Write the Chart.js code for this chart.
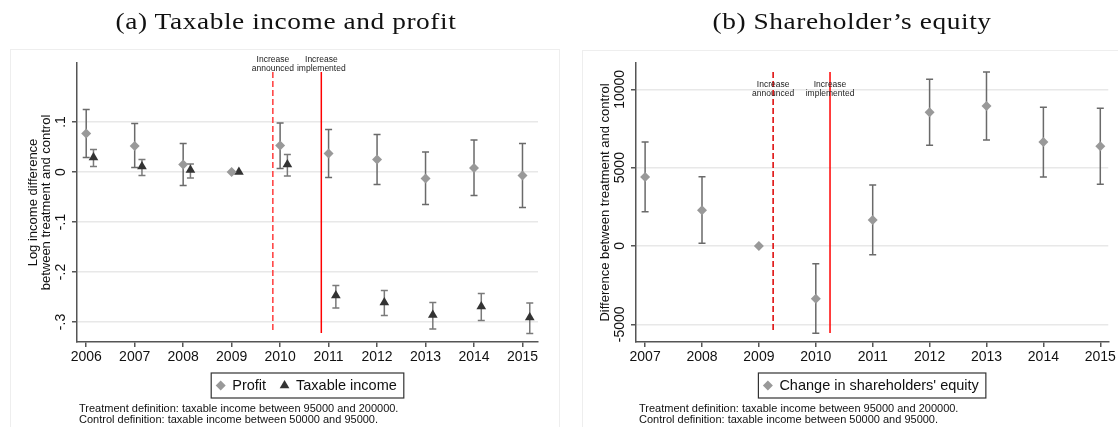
<!DOCTYPE html>
<html>
<head>
<meta charset="utf-8">
<script src="https://cdn.jsdelivr.net/npm/chart.js@4.4.1/dist/chart.umd.min.js"></script>
<style>
  body { margin: 0; background: #fff; width: 1118px; height: 427px; overflow: hidden; position: relative;
         font-family: "Liberation Sans", Arial, sans-serif; }
  canvas { position: absolute; top: 0; }
  .frame { position: absolute; border: 1px solid #eeeeee; }
  .title { position: absolute; top: 8px; font-family: "Liberation Serif", serif; font-size: 24px; color: #111;
           white-space: nowrap; transform: translateX(-50%) scaleX(1.14); letter-spacing: 0.5px; }
  .note { position: absolute; top: 403px; font-size: 11px; line-height: 11px; color: #111; white-space: nowrap; }
</style>
</head>
<body>
<div class="frame" style="left:10px; top:49px; width:548px; height:400px;"></div>
<div class="frame" style="left:582px; top:50px; width:560px; height:400px;"></div>

<canvas id="incomeChart" width="560" height="427" style="left:0"></canvas>
<canvas id="equityChart" width="558" height="427" style="left:560px"></canvas>

<div class="title" style="left:286px">(a) Taxable income and profit</div>
<div class="title" style="left:852px">(b) Shareholder’s equity</div>

<div class="note" style="left:79px">Treatment definition: taxable income between 95000 and 200000.<br>Control definition: taxable income between 50000 and 95000.</div>
<div class="note" style="left:639px">Treatment definition: taxable income between 95000 and 200000.<br>Control definition: taxable income between 50000 and 95000.</div>

<script>
// Panel (a): log income difference, treatment vs control
const yearsA = [2006, 2007, 2008, 2009, 2010, 2011, 2012, 2013, 2014, 2015];
const profit    = [0.077, 0.052, 0.015, 0, 0.053, 0.037, 0.025, -0.013, 0.008, -0.007];
const profitLo  = [0.029, 0.009, -0.027, null, 0.007, -0.011, -0.025, -0.065, -0.047, -0.071];
const profitHi  = [0.125, 0.097, 0.057, null, 0.098, 0.085, 0.075, 0.040, 0.064, 0.057];
const taxable   = [0.029, 0.011, 0.004, 0, 0.015, -0.247, -0.261, -0.286, -0.269, -0.291];
const taxableLo = [0.011, -0.007, -0.012, null, -0.008, -0.272, -0.287, -0.314, -0.297, -0.323];
const taxableHi = [0.045, 0.025, 0.016, null, 0.035, -0.227, -0.237, -0.261, -0.243, -0.262];
const yTicksA = [-0.3, -0.2, -0.1, 0, 0.1];
const yLabelsA = ['-.3', '-.2', '-.1', '0', '.1'];
const eventsA = [2009.85, 2010.85];

// Panel (b): change in shareholders' equity
const yearsB = [2007, 2008, 2009, 2010, 2011, 2012, 2013, 2014, 2015];
const equity   = [4406, 2280, 0, -3365, 1660, 8538, 8940, 6641, 6367];
const equityLo = [2190, 172, null, -5575, -555, 6430, 6769, 4406, 3940];
const equityHi = [6641, 4425, null, -1130, 3895, 10645, 11111, 8857, 8793];
const yTicksB = [-5000, 0, 5000, 10000];
const yLabelsB = ['-5000', '0', '5000', '10000'];
const eventsB = [2009.25, 2010.25];

const eventLabels = [['Increase', 'announced'], ['Increase', 'implemented']];
const dodge = 0.15;   // taxable income markers sit just right of the year
const FONT = '"Liberation Sans", Arial, sans-serif';

function marker(ctx, style, x, y, r) {
  ctx.beginPath();
  if (style === 'triangle') {
    for (let k = 0; k < 3; k++) {
      const a = k * 2 * Math.PI / 3;
      ctx[k ? 'lineTo' : 'moveTo'](x + Math.sin(a) * r, y - Math.cos(a) * r);
    }
  } else {
    ctx.moveTo(x - r, y); ctx.lineTo(x, y - r); ctx.lineTo(x + r, y); ctx.lineTo(x, y + r);
  }
  ctx.closePath();
  ctx.fill();
}

// error bars, event lines, rotated tick labels, axis title and boxed legend
const panelPlugin = {
  id: 'panel',
  beforeDatasetsDraw(chart, args, o) {
    const { ctx, scales: { x, y } } = chart;
    ctx.save();
    o.events.forEach((ev, i) => {
      const px = x.getPixelForValue(ev);
      ctx.strokeStyle = i === 0 ? o.dashColor : '#ff0000';
      ctx.lineWidth = 1.5;
      ctx.setLineDash(i === 0 ? [6, 3] : []);
      ctx.beginPath();
      ctx.moveTo(px, y.getPixelForValue(o.span[1]));
      ctx.lineTo(px, y.getPixelForValue(o.span[0]));
      ctx.stroke();
      ctx.setLineDash([]);
      ctx.fillStyle = '#222';
      ctx.font = '8.5px ' + FONT;
      ctx.textAlign = 'center';
      ctx.textBaseline = 'middle';
      o.labels[i].forEach((t, k) => ctx.fillText(t, px, o.labelY + k * 8.5));
    });
    chart.data.datasets.forEach((ds, i) => {
      if (!ds.errLo) return;
      const meta = chart.getDatasetMeta(i);
      ctx.strokeStyle = ds.errColor;
      ctx.lineWidth = 1.5;
      meta.data.forEach((pt, j) => {
        if (ds.errLo[j] == null) return;
        const lo = y.getPixelForValue(ds.errLo[j]), hi = y.getPixelForValue(ds.errHi[j]);
        ctx.beginPath();
        ctx.moveTo(pt.x, lo); ctx.lineTo(pt.x, hi);
        ctx.moveTo(pt.x - 3.5, lo); ctx.lineTo(pt.x + 3.5, lo);
        ctx.moveTo(pt.x - 3.5, hi); ctx.lineTo(pt.x + 3.5, hi);
        ctx.stroke();
      });
    });
    ctx.restore();
  },
  afterDraw(chart, args, o) {
    const { ctx, chartArea: a, scales: { y } } = chart;
    ctx.save();
    ctx.fillStyle = '#111';
    ctx.textAlign = 'center';
    ctx.textBaseline = 'middle';
    // y tick labels, turned like the axis title
    ctx.font = '14px ' + FONT;
    y.ticks.forEach((t, i) => {
      ctx.save();
      ctx.translate(a.left - 16, y.getPixelForValue(t.value));
      ctx.rotate(-Math.PI / 2);
      ctx.fillText(o.tickLabels[i], 0, 0);
      ctx.restore();
    });
    ctx.font = '13px ' + FONT;
    o.yTitle.forEach((line, k) => {
      ctx.save();
      ctx.translate(o.yTitleX + k * 13, (a.top + a.bottom) / 2);
      ctx.rotate(-Math.PI / 2);
      ctx.fillText(line, 0, 0);
      ctx.restore();
    });
    // legend
    ctx.font = '14.5px ' + FONT;
    const items = chart.data.datasets.map(ds => ({ ds, w: ctx.measureText(ds.label).width }));
    const total = items.reduce((s, it) => s + 9 + 7 + it.w, 0) + (items.length - 1) * 14 + 12;
    let lx = (a.left + a.right) / 2 - total / 2;
    const top = a.bottom + 31, h = 25, cy = top + h / 2;
    ctx.strokeStyle = '#333';
    ctx.lineWidth = 1.2;
    ctx.strokeRect(lx, top, total, h);
    lx += 5;
    ctx.textAlign = 'left';
    items.forEach(it => {
      ctx.fillStyle = it.ds.backgroundColor;
      marker(ctx, it.ds.pointStyle, lx + 4.5, cy, it.ds.pointRadius);
      ctx.fillStyle = '#111';
      ctx.fillText(it.ds.label, lx + 16, cy + 0.5);
      lx += 16 + it.w + 14;
    });
    ctx.restore();
  }
};

function makeChart(id, cfg) {
  return new Chart(document.getElementById(id), {
    type: 'scatter',
    data: { datasets: cfg.datasets },
    options: {
      responsive: false,
      animation: false,
      devicePixelRatio: 1,
      layout: { padding: cfg.padding },
      plugins: { legend: { display: false }, tooltip: { enabled: false }, panel: cfg.panel },
      scales: {
        x: {
          type: 'linear', min: cfg.xMin, max: cfg.xMax,
          afterBuildTicks: s => { s.ticks = cfg.years.map(v => ({ value: v })); },
          afterFit: s => { s.height = 30; },
          grid: { drawOnChartArea: false, tickLength: 5, tickColor: '#555', lineWidth: 1.5 },
          border: { color: '#555', width: 1.5 },
          ticks: { callback: v => String(v), color: '#111', font: { size: 14, family: FONT },
                   padding: 2, maxRotation: 0, autoSkip: false }
        },
        y: {
          min: cfg.yMin, max: cfg.yMax,
          afterBuildTicks: s => { s.ticks = cfg.yTicks.map(v => ({ value: v })); },
          afterFit: s => { s.width = cfg.yWidth; },
          grid: { color: '#e8e8e8', lineWidth: 1.5, tickLength: 5, tickColor: '#555' },
          border: { color: '#555', width: 1.5 },
          ticks: { display: false }
        }
      }
    },
    plugins: [panelPlugin]
  });
}

makeChart('incomeChart', {
  datasets: [
    { label: 'Profit', data: yearsA.map((yr, i) => ({ x: yr, y: profit[i] })),
      errLo: profitLo, errHi: profitHi, errColor: '#6a6a6a',
      pointStyle: 'rectRot', pointRadius: 5, backgroundColor: '#999999', borderWidth: 0 },
    { label: 'Taxable income', data: yearsA.map((yr, i) => ({ x: yr + dodge, y: taxable[i] })),
      errLo: taxableLo, errHi: taxableHi, errColor: '#7a7a7a',
      pointStyle: 'triangle', pointRadius: 5.6, backgroundColor: '#333333', borderWidth: 0 }
  ],
  years: yearsA, xMin: 2005.81, xMax: 2015.32,
  yTicks: yTicksA, yMin: -0.34, yMax: 0.218,
  yWidth: 67,
  padding: { left: 10, right: 22, top: 63, bottom: 55 },
  panel: { events: eventsA, labels: eventLabels, span: [-0.322, 0.2], labelY: 60, dashColor: '#ff3b3b',
           tickLabels: yLabelsA, yTitle: ['Log income difference', 'between treatment and control'], yTitleX: 33 }
});

makeChart('equityChart', {
  datasets: [
    { label: "Change in shareholders' equity", data: yearsB.map((yr, i) => ({ x: yr, y: equity[i] })),
      errLo: equityLo, errHi: equityHi, errColor: '#6a6a6a',
      pointStyle: 'rectRot', pointRadius: 5, backgroundColor: '#999999', borderWidth: 0 }
  ],
  years: yearsB, xMin: 2006.84, xMax: 2015.14,
  yTicks: yTicksB, yMin: -6130, yMax: 11680,
  yWidth: 66,
  padding: { left: 10, right: 8, top: 63, bottom: 55 },
  panel: { events: eventsB, labels: eventLabels, span: [-5556, 11111], labelY: 85, dashColor: '#dd0000',
           tickLabels: yLabelsB, yTitle: ['Difference between treatment and control'], yTitleX: 45 }
});
</script>
</body>
</html>
